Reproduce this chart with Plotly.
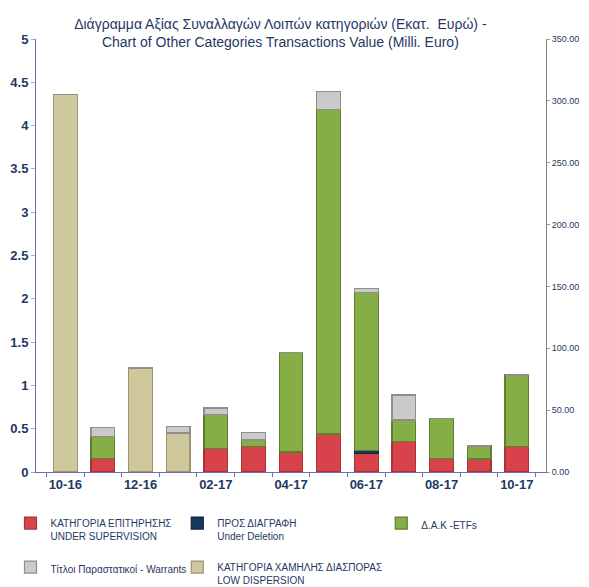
import plotly.graph_objects as go

months = ["10-16", "11-16", "12-16", "01-17", "02-17", "03-17", "04-17",
          "05-17", "06-17", "07-17", "08-17", "09-17", "10-17"]

supervision = [0.00, 0.16, 0.00, 0.00, 0.27, 0.29, 0.23, 0.43, 0.21, 0.35, 0.16, 0.15, 0.29]
deletion    = [0.00, 0.00, 0.00, 0.00, 0.00, 0.00, 0.00, 0.01, 0.04, 0.00, 0.00, 0.00, 0.00]
etfs        = [0.00, 0.25, 0.00, 0.00, 0.39, 0.08, 1.15, 3.75, 1.82, 0.25, 0.46, 0.15, 0.83]
low_disp    = [4.36, 0.00, 1.20, 0.45, 0.00, 0.00, 0.00, 0.00, 0.00, 0.00, 0.00, 0.00, 0.00]
warrants    = [0.00, 0.10, 0.00, 0.08, 0.08, 0.09, 0.00, 0.20, 0.05, 0.29, 0.00, 0.00, 0.00]

right_ticks = [0, 50, 100, 150, 200, 250, 300, 350]

NAVY = "#1F3864"
FONT = "Liberation Sans, Arial"

series = [
    ("ΚΑΤΗΓΟΡΙΑ ΕΠΙΤΗΡΗΣΗΣ<br>UNDER SUPERVISION", supervision, "#D8434B", "#A8323A", "legend", "g1"),
    ("ΠΡΟΣ ΔΙΑΓΡΑΦΗ<br>Under Deletion", deletion, "#17375E", "#0F2440", "legend2", "g2"),
    ("Δ.Α.Κ -ETFs", etfs, "#86AE46", "#5E7F2E", "legend3", "g3"),
    ("ΚΑΤΗΓΟΡΙΑ ΧΑΜΗΛΗΣ ΔΙΑΣΠΟΡΑΣ<br>LOW DISPERSION", low_disp, "#CFC89C", "#9C9570", "legend2", "g5"),
    ("Τίτλοι Παραστατικοί - Warrants", warrants, "#CACACA", "#8E8E8E", "legend", "g4"),
]

fig = go.Figure()
for name, vals, col, edge, leg, grp in series:
    fig.add_trace(go.Bar(
        x=months, y=vals, name=name,
        marker=dict(color=col, line=dict(color=edge, width=1.2)),
        legend=leg, legendgroup=grp, width=0.63,
    ))

# right-hand axis (Milli. Euro scale, 70x the left)
totals = [sum(v) for v in zip(supervision, deletion, etfs, low_disp, warrants)]
fig.add_trace(go.Scatter(
    x=months, y=[t * 70 for t in totals], yaxis="y2", mode="markers",
    marker=dict(opacity=0), showlegend=False, hoverinfo="skip",
))

leg_common = dict(
    orientation="v", font=dict(family=FONT, size=10, color=NAVY),
    bgcolor="rgba(0,0,0,0)", valign="top", yanchor="top", xanchor="left",
    traceorder="grouped", tracegroupgap=15, itemwidth=30,
)

fig.update_layout(
    width=589, height=587,
    margin=dict(l=36, r=43, t=39, b=115, autoexpand=False),
    paper_bgcolor="white", plot_bgcolor="white",
    barmode="stack", bargap=0.37,
    font=dict(family=FONT, color=NAVY),
    title=dict(
        text="Διάγραμμα Αξίας Συναλλαγών Λοιπών κατηγοριών (Εκατ.  Ευρώ) -<br>Chart of Other Categories Transactions Value (Milli. Euro)",
        x=0.476, xanchor="center", y=1 - 29 / 587, yanchor="middle",
        font=dict(family=FONT, size=14, color=NAVY),
    ),
    xaxis=dict(
        type="category", tickson="boundaries", ticks="outside", ticklen=4,
        tickcolor="#6E6EAA", ticklabelstep=2, tickangle=0, showline=True,
        linecolor="#6E6EAA", linewidth=1, showgrid=False, automargin=False,
        tickfont=dict(family=FONT, size=13, color=NAVY, weight="bold"),
    ),
    yaxis=dict(
        range=[0, 5], dtick=0.5, showgrid=False, zeroline=False,
        showline=True, linecolor="#6E6EAA", linewidth=1, automargin=False,
        ticks="outside", ticklen=4, tickcolor="#A8A8C8",
        tickfont=dict(family=FONT, size=13, color=NAVY, weight="bold"),
    ),
    yaxis2=dict(
        overlaying="y", side="right", range=[0, 350], tickvals=right_ticks,
        tickformat=".2f", showgrid=False, zeroline=False, automargin=False,
        showline=True, linecolor="#808080", linewidth=1,
        ticks="outside", ticklen=3, tickcolor="#A0A0A0",
        tickfont=dict(family=FONT, size=9, color=NAVY),
    ),
    legend=dict(x=-0.05, y=-0.088, **leg_common),
    legend2=dict(x=0.277, y=-0.088, **leg_common),
    legend3=dict(x=0.677, y=-0.088, **leg_common),
)

fig.write_html("out.html", config={"displayModeBar": False},
               post_script="document.body.style.margin='0';")
